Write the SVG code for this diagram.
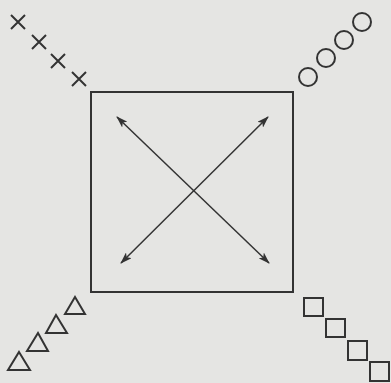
<svg xmlns="http://www.w3.org/2000/svg" width="391" height="383" viewBox="0 0 391 383">
<style>
.s{fill:none;stroke:#333;stroke-width:2}
.a{fill:none;stroke:#333;stroke-width:1.5}
</style>
<defs>
<marker id="ah" viewBox="0 0 12 8" refX="11" refY="4" markerWidth="12" markerHeight="8" markerUnits="userSpaceOnUse" orient="auto-start-reverse">
<path d="M0,0 L12,4 L0,8 L3,4 Z" fill="#333"/>
</marker>
</defs>
<rect width="391" height="383" fill="#e5e5e3"/>
<g id="box"><rect class="s" x="91" y="92" width="202" height="200" stroke-width="2.5"/></g>
<g id="connectors">
<line class="a" x1="117" y1="117" x2="269" y2="263" marker-start="url(#ah)" marker-end="url(#ah)"/>
<line class="a" x1="268" y1="117" x2="121" y2="263" marker-start="url(#ah)" marker-end="url(#ah)"/>
</g>
<g id="crosses" class="s">
<path d="M11,15 L25,29 M25,15 L11,29"/>
<path d="M32,35 L46,49 M46,35 L32,49"/>
<path d="M51,54 L65,68 M65,54 L51,68"/>
<path d="M72,72 L86,86 M86,72 L72,86"/>
</g>
<g id="circles" class="s">
<circle cx="362" cy="22" r="9"/>
<circle cx="344" cy="40" r="9"/>
<circle cx="326" cy="58" r="9"/>
<circle cx="308" cy="77" r="9"/>
</g>
<g id="triangles" class="s">
<path d="M75,297 L85,314 L65,314 Z"/>
<path d="M56,315 L67,333 L46,333 Z"/>
<path d="M38,333 L48,351 L27,351 Z"/>
<path d="M19,352 L30,370 L8,370 Z"/>
</g>
<g id="squares" class="s">
<rect x="304" y="298" width="19" height="18"/>
<rect x="326" y="319" width="19" height="18"/>
<rect x="348" y="341" width="19" height="19"/>
<rect x="370" y="362" width="19" height="19"/>
</g>
</svg>
